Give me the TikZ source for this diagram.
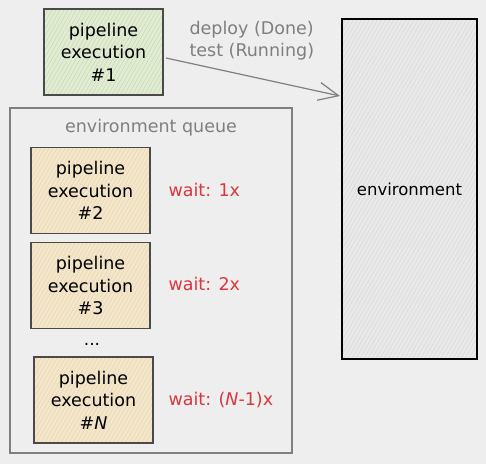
\documentclass[tikz,border=0pt]{standalone}
\usepackage{fontspec}
\setmainfont{DejaVu Sans}
\usetikzlibrary{arrows.meta,patterns.meta}
\definecolor{bg}{HTML}{EEEEEE}
\definecolor{greenfill}{HTML}{E2EBD6}
\definecolor{greenhatch}{HTML}{C5DDA6}
\definecolor{orangefill}{HTML}{F0E6D2}
\definecolor{orangehatch}{HTML}{F5D58E}
\definecolor{grayfill}{HTML}{E9E9EA}
\definecolor{grayhatch}{HTML}{D6D8DA}
\definecolor{border}{HTML}{4A4A4A}
\definecolor{softgray}{HTML}{7F7F7F}
\definecolor{waitred}{HTML}{D9363E}
\tikzset{
  pbox/.style={draw=border, line width=1.2pt, minimum width=119pt, minimum height=86pt,
    align=center, font=\fontsize{17.5}{22.5}\selectfont, text=black, inner sep=0pt},
  greenbox/.style={pbox, preaction={fill=greenfill}, preaction={pattern={Lines[angle=60,distance=3.5pt,line width=0.5pt]}, pattern color=greenhatch}},
  orangebox/.style={pbox, preaction={fill=orangefill}, preaction={pattern={Lines[angle=60,distance=3.5pt,line width=0.5pt]}, pattern color=orangehatch}},
  envbox/.style={draw=black, line width=1.3pt, minimum width=135pt, minimum height=340pt,
    preaction={fill=grayfill}, preaction={pattern={Lines[angle=60,distance=3.5pt,line width=0.5pt]}, pattern color=grayhatch},
    font=\fontsize{16.5}{20}\selectfont},
  queuebox/.style={draw=softgray, line width=1.2pt, minimum width=282pt, minimum height=345pt},
  graytext/.style={text=softgray, font=\fontsize{17.5}{22}\selectfont},
  waittext/.style={text=waitred, font=\fontsize{17.5}{20}\selectfont, anchor=west},
  flow/.style={draw=softgray, line width=1.2pt, -{Straight Barb[length=20pt,width=18pt,line width=1.2pt]}}
}
\begin{document}
\begin{tikzpicture}[x=1pt,y=-1pt]
\fill[bg] (0,0) rectangle (486,464);
\useasboundingbox (0,0) rectangle (486,464);

\node[queuebox] (queue) at (151,280.5) {};
\node[graytext] (qtitle) at (151,128) {environment queue};

\node[greenbox] (p1) at (103.5,52) {pipeline\\execution\\\#1};
\node[envbox] (env) at (409.5,189) {environment};

\node[orangebox] (p2) at (90.5,190.5) {pipeline\\execution\\\#2};
\node[orangebox] (p3) at (90.5,285.5) {pipeline\\execution\\\#3};
\node[font=\fontsize{17}{18}\selectfont] (dots) at (92,344) {...};
\node[orangebox] (pn) at (93.5,400) {pipeline\\execution\\\#\textit{N}};

\node[waittext] (w2) at (165,190) {wait: 1x};
\node[waittext] (w3) at (165,284) {wait: 2x};
\node[waittext] (wn) at (165,400) {wait: (\textit{N}-1)x};

\coordinate (a0) at (166,58);
\coordinate (a1) at (340,96);
\draw[flow] (a0) -- (a1);
\node[graytext, align=left, anchor=west] (lbl) at (186,41) {deploy (Done)\\test (Running)};
\end{tikzpicture}
\end{document}
